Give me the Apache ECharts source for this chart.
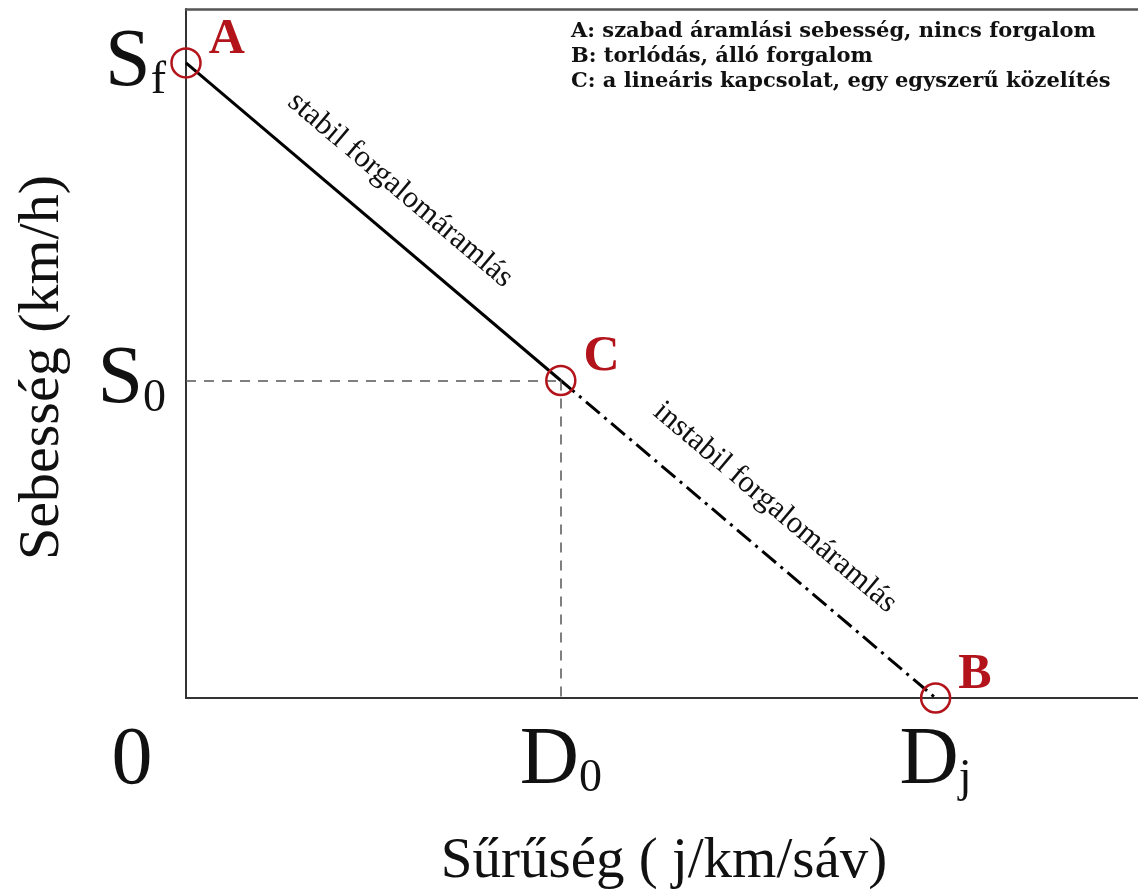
<!DOCTYPE html>
<html>
<head>
<meta charset="utf-8">
<script src="https://cdn.jsdelivr.net/npm/echarts@6/dist/echarts.min.js"></script>
<style>
  html, body { margin: 0; padding: 0; background: #fff; }
  #chart { width: 1138px; height: 894px; }
</style>
</head>
<body>
<div id="chart"></div>
<script>
// pontok: A (szabad áramlás), C (kapcsolat), B (torlódás)
var density = [0, 1, 2];      // 0, D0, Dj
var speed = [2, 1, 0];        // Sf, S0, 0
var pointNames = ['A', 'C', 'B'];

// tengely feliratok
var xTickValues = [0, 1, 2];
var xTickLabels = ['{z|0}', '{m|D}{s|0}', '{m|D}{s|j}'];
var yTickValues = [1, 2];
var yTickLabels = ['{m|S}{s|0}', '{m|S}{s|f}'];

var segmentLabels = ['stabil forgalomáramlás', 'instabil forgalomáramlás'];
var notes = [
  'A: szabad áramlási sebesség, nincs forgalom',
  'B: torlódás, álló forgalom',
  'C: a lineáris kapcsolat, egy egyszerű közelítés'
];

var serif = '"Liberation Serif", "DejaVu Serif", serif';
var red = '#b3141b';

var tickRich = {
  z: { fontFamily: serif, fontSize: 82, color: '#111', padding: [0, 108, 0, 0] },
  m: { fontFamily: serif, fontSize: 82, color: '#111', verticalAlign: 'top' },
  s: { fontFamily: serif, fontSize: 46, color: '#111', verticalAlign: 'top', padding: [36, 0, 0, 0] }
};

var chart = echarts.init(document.getElementById('chart'));

function seg(i, j) {
  return [{ coord: [density[i], speed[i]] }, { coord: [density[j], speed[j]] }];
}

chart.setOption({
  backgroundColor: '#fff',
  animation: false,
  title: {
    text: notes.join('\n'),
    left: 566,
    top: 14,
    textStyle: {
      fontFamily: '"DejaVu Serif", serif',
      fontWeight: 'bold',
      fontSize: 21,
      lineHeight: 25,
      color: '#111'
    }
  },
  grid: {
    left: 186,
    right: 0,
    top: 9,
    bottom: 196,
    outerBoundsMode: 'none'
  },
  xAxis: [{
    type: 'value',
    min: 0,
    max: 2.54,
    name: 'Sűrűség ( j/km/sáv)',
    nameLocation: 'middle',
    nameGap: 136,
    nameTextStyle: { fontFamily: serif, fontSize: 57, color: '#111', padding: [0, 0, 0, 4] },
    axisLine: { show: true, onZero: false, lineStyle: { color: '#333', width: 2 } },
    axisTick: { show: false },
    splitLine: { show: false },
    axisLabel: {
      customValues: xTickValues,
      margin: 22,
      formatter: function (v) {
        return xTickLabels[xTickValues.indexOf(v)];
      },
      rich: tickRich
    }
  }, {
    // felső keret
    type: 'value',
    position: 'top',
    min: 0,
    max: 2.54,
    axisLine: { show: true, onZero: false, lineStyle: { color: '#555', width: 2.5 } },
    axisTick: { show: false },
    axisLabel: { show: false },
    splitLine: { show: false }
  }],
  yAxis: {
    type: 'value',
    min: 0,
    max: 2.17,
    name: 'Sebesség (km/h)',
    nameLocation: 'middle',
    nameGap: 114,
    nameTextStyle: { fontFamily: serif, fontSize: 58, color: '#111', padding: [0, 28, 0, 0] },
    axisLine: { show: true, onZero: false, lineStyle: { color: '#333', width: 2 } },
    axisTick: { show: false },
    splitLine: { show: false },
    axisLabel: {
      customValues: yTickValues,
      margin: 20,
      formatter: function (v) {
        return yTickLabels[yTickValues.indexOf(v)];
      },
      rich: tickRich
    }
  },
  series: [
    {
      // szaggatott segédvonalak
      type: 'line',
      data: [],
      markLine: {
        silent: true,
        symbol: 'none',
        label: { show: false },
        lineStyle: { color: '#555', width: 1.5, type: [10, 8] },
        data: [
          [{ coord: [0, speed[1]] }, { coord: [density[1], speed[1]] }],
          [{ coord: [density[1], speed[1]] }, { coord: [density[1], 0] }]
        ]
      }
    },
    {
      name: 'stabil',
      type: 'line',
      data: [[density[0], speed[0]], [density[1], speed[1]]],
      symbol: 'none',
      lineStyle: { color: '#000', width: 3 },
      markLine: {
        silent: true,
        symbol: 'none',
        lineStyle: { color: 'rgba(0,0,0,0)', width: 1, type: 'solid' },
        label: {
          show: true,
          position: 'insideMiddleTop',
          distance: 26,
          formatter: segmentLabels[0],
          fontFamily: serif,
          fontSize: 31,
          color: '#111'
        },
        data: [seg(0, 1)]
      }
    },
    {
      name: 'instabil',
      type: 'line',
      data: [[density[1], speed[1]], [density[2], speed[2]]],
      symbol: 'none',
      lineStyle: { color: '#000', width: 3, type: [18, 6, 3, 6] },
      markLine: {
        silent: true,
        symbol: 'none',
        lineStyle: { color: 'rgba(0,0,0,0)', width: 1, type: 'solid' },
        label: {
          show: true,
          position: 'insideMiddleTop',
          distance: 26,
          formatter: segmentLabels[1],
          fontFamily: serif,
          fontSize: 31,
          color: '#111'
        },
        data: [seg(1, 2)]
      }
    },
    {
      name: 'pontok',
      type: 'scatter',
      clip: false,
      symbol: 'circle',
      symbolSize: 29,
      z: 5,
      data: density.map(function (d, i) {
        return { name: pointNames[i], value: [d, speed[i]] };
      }),
      itemStyle: { color: 'rgba(0,0,0,0)', borderColor: red, borderWidth: 2.5, opacity: 1 },
      label: {
        show: true,
        position: 'right',
        offset: [2, -23],
        formatter: '{b}',
        fontFamily: serif,
        fontWeight: 'bold',
        fontSize: 50,
        color: red
      }
    }
  ]
});
</script>
</body>
</html>
